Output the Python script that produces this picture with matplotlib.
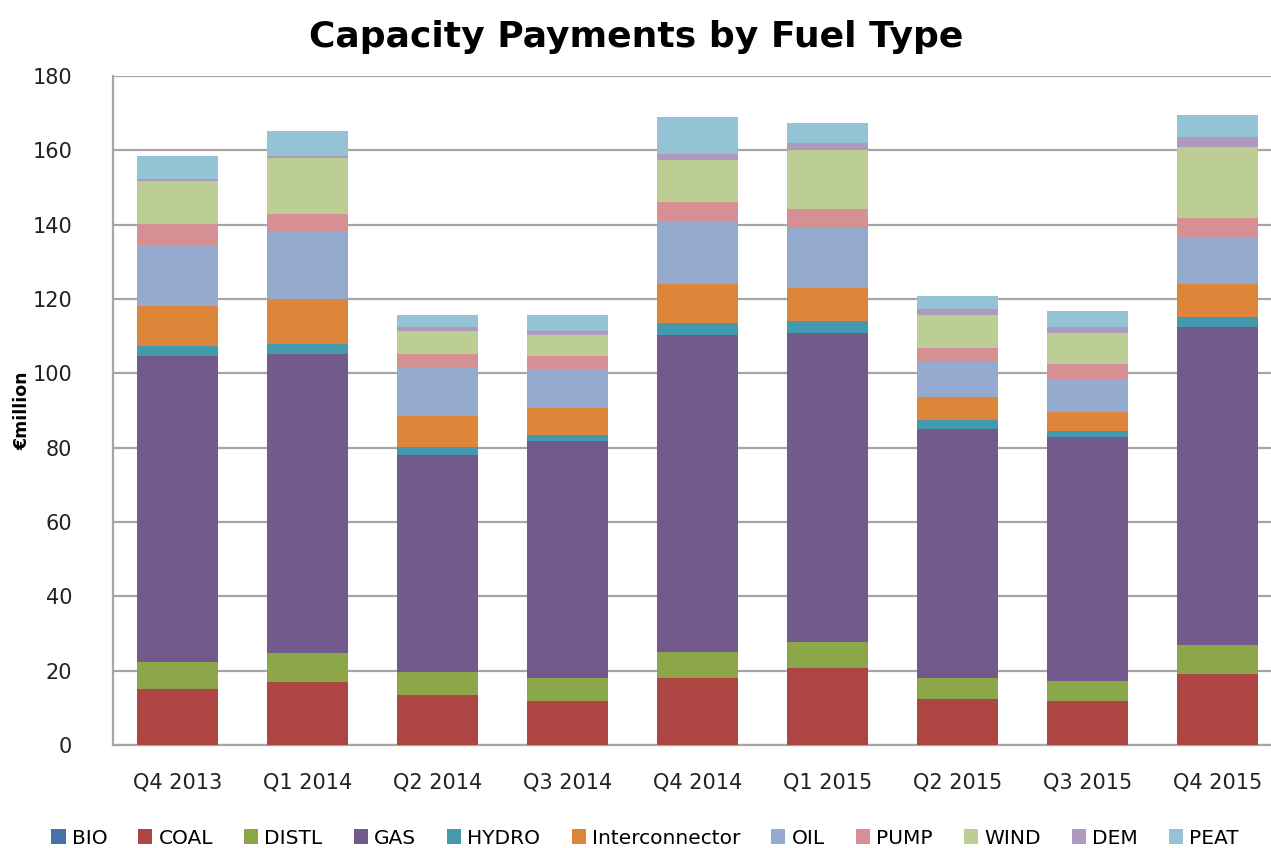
import matplotlib
matplotlib.use("Agg")
import matplotlib.pyplot as plt
import numpy as np

categories = ["Q4 2013", "Q1 2014", "Q2 2014", "Q3 2014", "Q4 2014",
              "Q1 2015", "Q2 2015", "Q3 2015", "Q4 2015"]
fuels = ["BIO", "COAL", "DISTL", "GAS", "HYDRO", "Interconnector",
         "OIL", "PUMP", "WIND", "DEM", "PEAT"]

bio = [0, 0, 0, 0, 0, 0, 0, 0, 0]
coal = [15.2, 16.9, 13.5, 11.8, 17.9, 20.6, 12.4, 11.8, 19.1]
distl = [7.2, 7.8, 6.1, 6.1, 7.2, 7.2, 5.5, 5.5, 7.7]
gas = [82.2, 80.5, 58.3, 63.8, 85.1, 83.0, 67.2, 65.7, 85.6]
hydro = [2.8, 2.7, 2.4, 1.7, 3.3, 3.2, 2.4, 1.6, 2.7]
interconnector = [10.6, 12.2, 8.3, 7.3, 10.6, 9.0, 6.0, 5.0, 9.0]
oil = [16.6, 17.8, 13.2, 10.6, 16.6, 16.1, 9.5, 8.8, 12.2]
pump = [5.6, 5.0, 3.4, 3.3, 5.5, 5.0, 3.8, 4.0, 5.6]
wind = [11.6, 15.0, 6.1, 5.6, 11.3, 16.0, 8.9, 8.4, 18.9]
dem = [0.5, 0.6, 1.1, 1.1, 1.5, 1.8, 1.6, 1.6, 2.7]
peat = [6.3, 6.6, 3.3, 4.5, 10.1, 5.4, 3.6, 4.4, 6.1]

series = [bio, coal, distl, gas, hydro, interconnector, oil, pump, wind, dem, peat]
colors = ["#4572A7", "#AD4542", "#8CA64A", "#735A8C", "#439AAE", "#DD8639",
          "#95AACF", "#D69093", "#BDCE95", "#AD9ABD", "#93C3D5"]

fig = plt.figure(figsize=(12.71, 8.48), dpi=100)
ax = fig.add_axes([112.5 / 1271, 103 / 848, 1170 / 1271, 669 / 848])

x = np.arange(len(categories))
bottom = np.zeros(len(categories))
for name, vals, c in zip(fuels, series, colors):
    v = np.array(vals, dtype=float)
    ax.bar(x, v, bottom=bottom, width=0.63, color=c, label=name,
           edgecolor="none", zorder=3)
    bottom += v

ax.set_xlim(-0.5, len(categories) - 0.5)
ax.set_ylim(0, 180)
ax.set_yticks(np.arange(0, 181, 20))
ax.yaxis.grid(True, color="#A6A6A6", linewidth=1.6, zorder=0)
ax.set_axisbelow(True)
for s in ["top", "right"]:
    ax.spines[s].set_visible(False)
ax.spines["left"].set_color("#A6A6A6")
ax.spines["bottom"].set_color("#A6A6A6")
ax.spines["left"].set_linewidth(1.6)
ax.spines["bottom"].set_linewidth(1.6)
ax.set_xticks(x)
ax.set_xticklabels(categories, fontsize=15, color="#222222")
ax.tick_params(axis="x", length=0, pad=20)
ax.tick_params(axis="y", length=0, pad=29, labelsize=15, labelcolor="#222222")

ax.set_ylabel("€million", fontsize=12.5, fontweight="bold", labelpad=1)

fig.text(636 / 1271, 1 - 37 / 848, "Capacity Payments by Fuel Type",
         ha="center", va="center", fontsize=26, fontweight="bold",
         family="DejaVu Sans")

handles, labels = ax.get_legend_handles_labels()
fig.legend(handles, labels, loc="center", bbox_to_anchor=(645 / 1271, 1 - 838 / 848),
           ncol=11, frameon=False, fontsize=14.5, handlelength=0.7,
           handleheight=0.7, handletextpad=0.3, columnspacing=1.55)

fig.savefig("out.png", dpi=100)
